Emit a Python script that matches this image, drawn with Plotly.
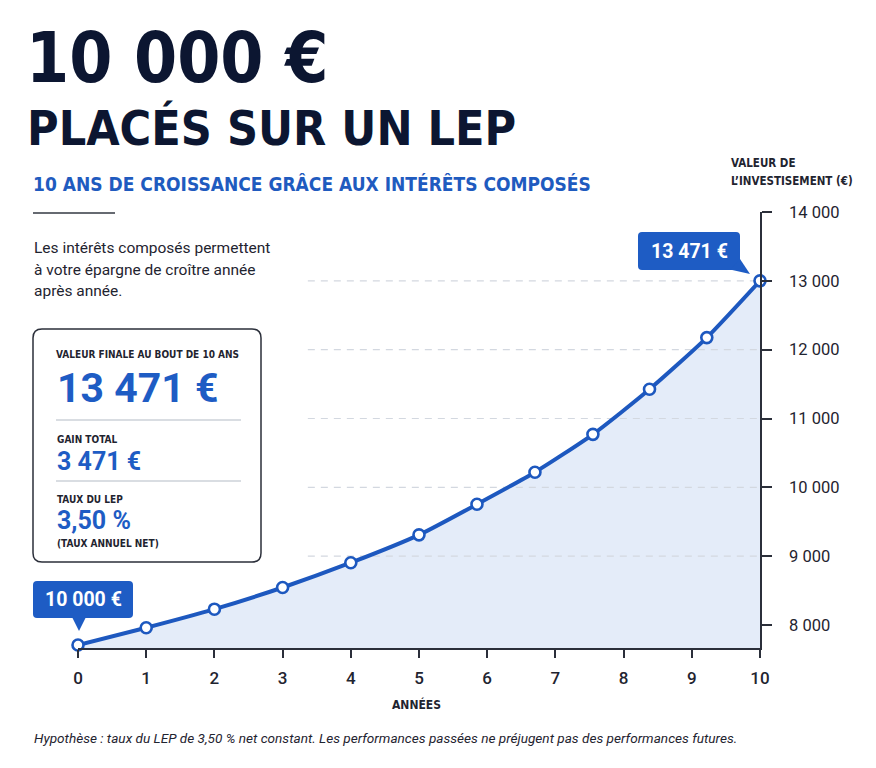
import plotly.graph_objects as go

# ---------------- data ----------------
years = [0, 1, 2, 3, 4, 5, 5.85, 6.7, 7.55, 8.38, 9.22, 10]
values = [7710, 7960, 8230, 8545, 8905, 9310, 9755, 10220, 10770, 11425, 12175, 13000]
x_tick_vals = list(range(0, 11))
y_tick_vals = [8000, 9000, 10000, 11000, 12000, 13000, 14000]
y_tick_text = ["8 000", "9 000", "10 000", "11 000", "12 000", "13 000", "14 000"]
grid_vals = [9000, 10000, 11000, 12000, 13000]
grid_start_year = 3.37
start_label = "10 000 €"
end_label = "13 471 €"
final_value_text = "13 471 €"
gain_text = "3 471 €"
rate_text = "3,50 %"

# ---------------- style ----------------
W, H = 876, 768
L, R, T, B = 78, 760, 212, 648
NAVY = "#0c1631"
BLUE = "#1d58bf"
BOX_BLUE = "#1e5cc4"
TXT = "#1f2430"
AXIS = "#2b2f3a"
FILL = "#e4ecf9"
COND = "DejaVu Sans Condensed, Liberation Sans Narrow, sans-serif"
SANS = "Roboto"


def px(X):
    return (X - L) / (R - L)


def py(Y):
    return (B - Y) / (B - T)


def rrect(x0, y0, x1, y1, r):
    pts = [
        ("M", [(x0 + r, y0)]), ("L", [(x1 - r, y0)]), ("Q", [(x1, y0), (x1, y0 + r)]),
        ("L", [(x1, y1 - r)]), ("Q", [(x1, y1), (x1 - r, y1)]), ("L", [(x0 + r, y1)]),
        ("Q", [(x0, y1), (x0, y1 - r)]), ("L", [(x0, y0 + r)]), ("Q", [(x0, y0), (x0 + r, y0)]),
    ]
    s = ""
    for cmd, ps in pts:
        s += cmd + " " + " ".join(f"{px(a):.5f},{py(b):.5f}" for a, b in ps) + " "
    return s + "Z"


def tri(p):
    return "M " + " L ".join(f"{px(a):.5f},{py(b):.5f}" for a, b in p) + " Z"


fig = go.Figure()

# area fill
fig.add_trace(go.Scatter(
    x=years, y=values, mode="lines", fill="tozeroy", fillcolor=FILL,
    line=dict(width=0, shape="spline", smoothing=0.6, color=FILL),
    hoverinfo="skip", showlegend=False))

# partial dashed gridlines
for g in grid_vals:
    fig.add_trace(go.Scatter(
        x=[grid_start_year, 10], y=[g, g], mode="lines",
        line=dict(color="#d3d8e0", width=1.2, dash="7px,6px"),
        hoverinfo="skip", showlegend=False))

# main line
fig.add_trace(go.Scatter(
    x=years, y=values, mode="lines+markers",
    line=dict(color=BLUE, width=4, shape="spline", smoothing=0.6),
    marker=dict(size=11, color="white", line=dict(color=BLUE, width=2.6)),
    cliponaxis=False, showlegend=False,
    hovertemplate="Année %{x}<br>%{y:,.0f} €<extra></extra>"))

shapes = []
annotations = []


def ann(text, X, Y, size, color=TXT, family=COND, weight="bold", xanchor="left",
        yanchor="middle", style="normal"):
    annotations.append(dict(
        text=text, x=px(X), y=py(Y), xref="paper", yref="paper",
        xanchor=xanchor, yanchor=yanchor, showarrow=False,
        font=dict(family=family, size=size, color=color, weight=weight, style=style)))


# titles
ann("10 000 €", 24, 57.5, 69, NAVY)
ann("PLACÉS SUR UN LEP", 25, 127.5, 48, NAVY)
ann("10 ANS DE CROISSANCE GRÂCE AUX INTÉRÊTS COMPOSÉS", 31, 184, 19, "#1f5bbf")
shapes.append(dict(type="line", xref="paper", yref="paper", x0=px(33), x1=px(115),
                   y0=py(213), y1=py(213), line=dict(color="#333842", width=1.5)))

# paragraph
for i, line in enumerate(["Les intérêts composés permettent",
                          "à votre épargne de croître année",
                          "après année."]):
    ann(line, 32, 248 + i * 21.5, 15.5, TXT, SANS, "normal")

# info box
shapes.append(dict(type="path", xref="paper", yref="paper", path=rrect(33, 329, 261, 562, 9),
                   line=dict(color=AXIS, width=1.5), fillcolor="white", layer="above"))
for ys in [420, 481]:
    shapes.append(dict(type="line", xref="paper", yref="paper", x0=px(56), x1=px(241),
                       y0=py(ys), y1=py(ys), line=dict(color="#cdd2d9", width=1.5)))
ann("VALEUR FINALE AU BOUT DE 10 ANS", 54, 354, 10, TXT)
ann(final_value_text, 55, 388, 41, BOX_BLUE, SANS, "bold")
ann("GAIN TOTAL", 55, 439, 10, TXT)
ann(gain_text, 55, 461, 25, BOX_BLUE, SANS, "bold")
ann("TAUX DU LEP", 55, 499, 10, TXT)
ann(rate_text, 55, 520, 25, BOX_BLUE, SANS, "bold")
ann("(TAUX ANNUEL NET)", 55, 543, 10, TXT)

# callouts
shapes.append(dict(type="path", xref="paper", yref="paper", path=rrect(638, 232, 740, 270, 4),
                   line=dict(width=0), fillcolor=BOX_BLUE, layer="above"))
shapes.append(dict(type="path", xref="paper", yref="paper",
                   path=tri([(730, 269.5), (740, 259), (750, 274)]),
                   line=dict(width=0), fillcolor=BOX_BLUE, layer="above"))
ann(end_label, 689, 251, 19.5, "white", SANS, "bold", xanchor="center")

shapes.append(dict(type="path", xref="paper", yref="paper", path=rrect(33, 581, 133, 618, 4),
                   line=dict(width=0), fillcolor=BOX_BLUE, layer="above"))
shapes.append(dict(type="path", xref="paper", yref="paper",
                   path=tri([(72, 617), (86, 617), (79, 631)]),
                   line=dict(width=0), fillcolor=BOX_BLUE, layer="above"))
ann(start_label, 83, 599.5, 19.5, "white", SANS, "bold", xanchor="center")

# axis titles
ann("VALEUR DE", 729, 163, 11.5, TXT)
ann("L’INVESTISEMENT (€)", 729, 181, 11.5, TXT)
ann("ANNÉES", 416, 704, 12, TXT, xanchor="center")

# footnote
ann("Hypothèse : taux du LEP de 3,50 % net constant. Les performances passées ne préjugent pas des performances futures.",
    32, 738, 13.6, TXT, SANS, "normal", style="italic")

fig.update_layout(
    width=W, height=H, margin=dict(l=L, r=W - R, t=T, b=H - B),
    paper_bgcolor="white", plot_bgcolor="rgba(0,0,0,0)",
    shapes=shapes, annotations=annotations, showlegend=False,
    xaxis=dict(range=[0, 10], tickvals=x_tick_vals, showgrid=False, zeroline=False,
               showline=True, linecolor=AXIS, linewidth=1.5, ticks="outside", ticklen=8,
               tickwidth=1.5, tickcolor=AXIS, ticklabelstandoff=6,
               tickfont=dict(family=SANS, size=17, color=TXT, weight=500), fixedrange=True),
    yaxis=dict(range=[7666, 14000], side="right", tickvals=y_tick_vals, ticktext=y_tick_text,
               showgrid=False, zeroline=False, showline=True, linecolor=AXIS, linewidth=1.5,
               ticks="outside", ticklen=10, tickwidth=1.5, tickcolor=AXIS,
               ticklabelstandoff=14, tickfont=dict(family=SANS, size=16.5, color=TXT),
               fixedrange=True),
)

fig.write_html("out.html", config={"displayModeBar": False})
